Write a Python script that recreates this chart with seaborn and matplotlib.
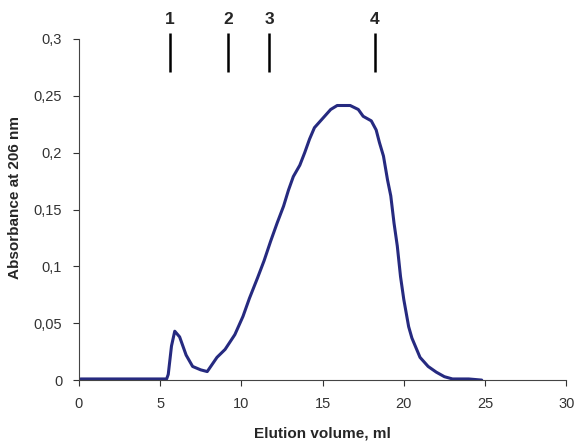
import numpy as np
import pandas as pd
import matplotlib
matplotlib.use("Agg")
import matplotlib.pyplot as plt
import seaborn as sns
from matplotlib.ticker import FuncFormatter, MultipleLocator

# elution profile
volume = [0.1, 1, 2, 3, 4, 5, 5.4, 5.5, 5.7, 5.9, 6.2, 6.6, 7.0, 7.5, 7.9,
          8.5, 9.0, 9.6, 10.1, 10.5, 11.0, 11.4, 11.8, 12.2, 12.6, 12.9,
          13.2, 13.6, 13.9, 14.2, 14.5, 15.0, 15.5, 15.9, 16.7, 17.2, 17.5,
          18.0, 18.3, 18.5, 18.75, 19.0, 19.2, 19.4, 19.6, 19.8, 20.0, 20.3,
          20.5, 21.0, 21.5, 22.0, 22.5, 23.0, 24.0, 24.8]
absorbance = [0.001, 0.001, 0.001, 0.001, 0.001, 0.001, 0.001, 0.005, 0.03,
              0.043, 0.038, 0.022, 0.012, 0.009, 0.0075, 0.02, 0.027, 0.040,
              0.056, 0.072, 0.090, 0.105, 0.122, 0.138, 0.153, 0.167, 0.179,
              0.189, 0.2, 0.212, 0.222, 0.230, 0.238, 0.2415, 0.2415, 0.238,
              0.232, 0.228, 0.220, 0.209, 0.197, 0.176, 0.162, 0.138, 0.118,
              0.091, 0.071, 0.047, 0.037, 0.02, 0.012, 0.007, 0.003, 0.001,
              0.001, 0.0]

# calibration markers
marker_labels = ["1", "2", "3", "4"]
marker_pos = [5.6, 9.2, 11.7, 18.2]

df = pd.DataFrame({"volume": volume, "absorbance": absorbance})

sns.set_style("ticks")
plt.rcParams["font.family"] = ["Liberation Sans", "DejaVu Sans"]

fig = plt.figure(figsize=(5.76, 4.43), dpi=100)
ax = fig.add_axes([0.137, 0.142, 0.846, 0.770])

sns.lineplot(data=df, x="volume", y="absorbance", ax=ax, color="#262a80",
             linewidth=2.2, sort=True)

ax.vlines(marker_pos, 0.271, 0.305, colors="black", linewidth=1.8, clip_on=False)
for lab, xp in zip(marker_labels, marker_pos):
    ax.text(xp, 0.3175, lab, ha="center", va="center", fontsize=12.5,
            fontweight="bold", clip_on=False)

ax.set_xlim(0, 30)
ax.set_ylim(0, 0.3)
ax.xaxis.set_major_locator(MultipleLocator(5))
ax.yaxis.set_major_locator(MultipleLocator(0.05))
ax.yaxis.set_major_formatter(FuncFormatter(lambda v, p: f"{round(v, 3):g}".replace(".", ",")))

ax.set_xlabel("Elution volume, ml", fontsize=11, fontweight="bold")
ax.set_ylabel("Absorbance at 206 nm", fontsize=11, fontweight="bold")
ax.xaxis.set_label_coords(0.5, -0.137)
ax.yaxis.set_label_coords(-0.117, 0.534)
ax.tick_params(axis="both", labelsize=10.5, length=4, width=0.8, colors="#333333",
               direction="out", pad=8)
for s in ["left", "bottom"]:
    ax.spines[s].set_color("#444444")
    ax.spines[s].set_linewidth(0.8)
sns.despine(ax=ax)

fig.savefig("out.png", dpi=100)
